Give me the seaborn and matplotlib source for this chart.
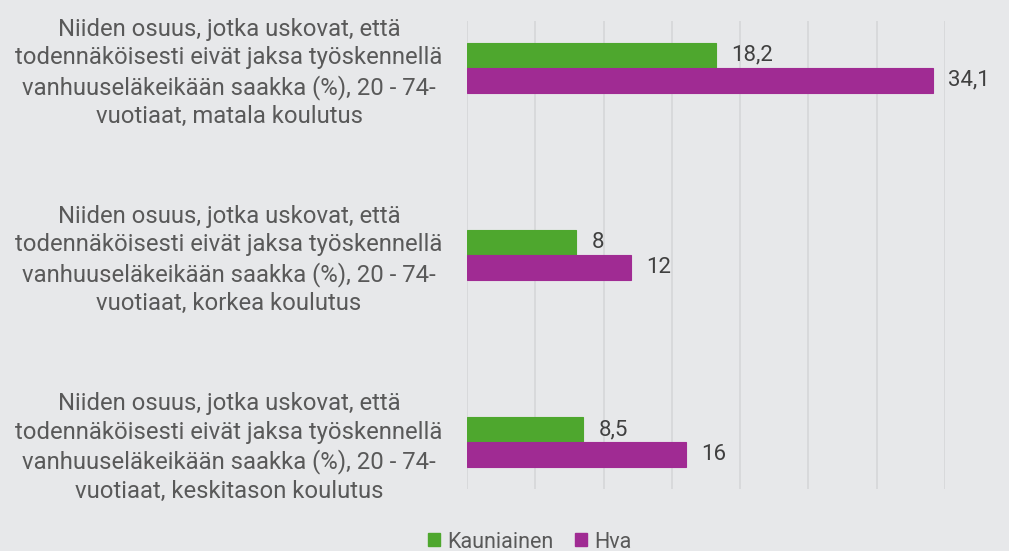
import matplotlib
matplotlib.use("Agg")
import matplotlib.pyplot as plt
import seaborn as sns
import pandas as pd
from matplotlib.patches import Patch

categories = [
    "Niiden osuus, jotka uskovat, että\ntodennäköisesti eivät jaksa työskennellä\nvanhuuseläkeikään saakka (%), 20 - 74-\nvuotiaat, matala koulutus",
    "Niiden osuus, jotka uskovat, että\ntodennäköisesti eivät jaksa työskennellä\nvanhuuseläkeikään saakka (%), 20 - 74-\nvuotiaat, korkea koulutus",
    "Niiden osuus, jotka uskovat, että\ntodennäköisesti eivät jaksa työskennellä\nvanhuuseläkeikään saakka (%), 20 - 74-\nvuotiaat, keskitason koulutus",
]
series_names = ["Kauniainen", "Hva"]
kauniainen = [18.2, 8.0, 8.5]
hva = [34.1, 12.0, 16.0]
colors = ["#4EA72E", "#A02B93"]

rows = []
for c, k, h in zip(categories, kauniainen, hva):
    rows.append({"cat": c, "series": series_names[0], "value": k})
    rows.append({"cat": c, "series": series_names[1], "value": h})
df = pd.DataFrame(rows)

sns.set_theme(style="white")
plt.rcParams["font.family"] = ["Roboto", "DejaVu Sans"]

bg = "#E7E8EA"
fig = plt.figure(figsize=(10.09, 5.51), dpi=100, facecolor=bg)
ax = fig.add_axes([467 / 1009, 1 - 489 / 551, (945 - 467) / 1009, (489 - 21) / 551])
ax.set_facecolor(bg)

sns.barplot(data=df, y="cat", x="value", hue="series", order=categories,
            hue_order=series_names, palette=colors, orient="h", width=0.267,
            ax=ax, legend=False, saturation=1, linewidth=0.8)
for cont, col in zip(ax.containers, colors):
    for p in cont:
        p.set_edgecolor(col)
    ax.bar_label(cont, labels=[f"{v:g}".replace(".", ",") for v in cont.datavalues],
                 padding=11, fontsize=16, color="#404040")

ax.set_xlim(0, 35)
ax.set_ylim(2.25, -0.25)
ax.set_xticks([0, 5, 10, 15, 20, 25, 30, 35])
ax.set_xticklabels([])
ax.xaxis.grid(True, color="#D6D7D9", linewidth=1.2)
ax.set_axisbelow(True)
ax.tick_params(axis="both", length=0)
for s in ax.spines.values():
    s.set_visible(False)
ax.set_xlabel("")
ax.set_ylabel("")
ax.set_yticks(range(len(categories)))
ax.set_yticklabels(categories, ha="center", multialignment="center",
                   fontsize=17.2, color="#595959", linespacing=1.3)
ax.tick_params(axis="y", pad=238 * 0.72)

handles = [Patch(facecolor=c, edgecolor=c) for c in colors]
fig.legend(handles, series_names, loc="center", bbox_to_anchor=(530 / 1009, 1 - 542 / 551),
           ncol=2, frameon=False, fontsize=15.5, labelcolor="#595959",
           handlelength=0.55, handleheight=0.55, handletextpad=0.35, columnspacing=1.0,
           borderpad=0.1)

fig.savefig("out.png", dpi=100, facecolor=bg)
